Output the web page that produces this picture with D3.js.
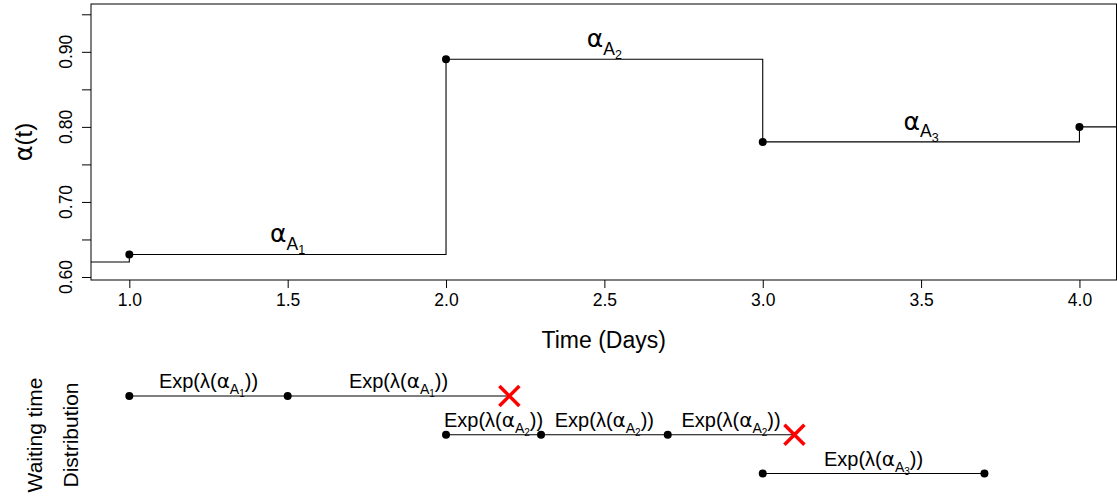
<!DOCTYPE html>
<html>
<head>
<meta charset="utf-8">
<script src="https://cdn.jsdelivr.net/npm/d3@7"></script>
<style>
  body { margin: 0; background: #fff; }
  svg { display: block; font-family: "Liberation Sans", Arial, sans-serif; }
  .tick text { fill: #000; }
  .greek { font-family: "DejaVu Sans", sans-serif; }
</style>
</head>
<body>
<svg id="chart" width="1117" height="498"></svg>
<script>
// alpha(t) step function: value before first change, then value at each change time
const alphaStart = 0.62
const changeTimes = [1, 2, 3, 4]
const alphaValues = [0.63, 0.89, 0.78, 0.80]

// state labels sit over the middle of each interval
const stateNames = ["1", "2", "3"]
const stateMids = [1.5, 2.5, 3.5]

// waiting time rows: event times per row, which state, and whether it ends censored (x)
const rowTimes = [
  [1.0, 1.5, 2.2],
  [2.0, 2.3, 2.7, 3.1],
  [3.0, 3.7]
]
const rowState = ["1", "2", "3"]
const rowCrossed = [true, true, false]

const xTicks = [1.0, 1.5, 2.0, 2.5, 3.0, 3.5, 4.0]
const yTicks = [0.60, 0.65, 0.70, 0.75, 0.80, 0.85, 0.90, 0.95]
const yLabelled = [0.60, 0.70, 0.80, 0.90]

const svg = d3.select("#chart")
const box = { left: 91, right: 1116.5, top: 4, bottom: 280 }

const x = d3.scaleLinear()
  .domain([0.879, 4.117])
  .range([box.left, box.right])

const y = d3.scaleLinear()
  .domain([0.596, 0.9637])
  .range([box.bottom, box.top])

const rowY = d3.scalePoint()
  .domain([0, 1, 2])
  .range([396, 473.5])

// clip for the step line
svg.append("clipPath").attr("id", "plotclip")
  .append("rect")
  .attr("x", box.left).attr("y", box.top)
  .attr("width", box.right - box.left).attr("height", box.bottom - box.top)

// axes
const xAxis = svg.append("g")
  .attr("transform", "translate(0," + box.bottom + ")")
  .call(d3.axisBottom(x).tickValues(xTicks).tickFormat(d3.format(".1f")).tickSize(8).tickPadding(6))
xAxis.select(".domain").remove()
xAxis.selectAll("text").style("font-size", "17.5px")

const yAxis = svg.append("g")
  .attr("transform", "translate(" + box.left + ",0)")
  .call(d3.axisLeft(y).tickValues(yTicks).tickSize(9).tickFormat(""))
yAxis.select(".domain").remove()

svg.append("g").selectAll("text")
  .data(yLabelled)
  .join("text")
  .attr("transform", d => "translate(71.5," + y(d) + ") rotate(-90)")
  .attr("text-anchor", "middle")
  .style("font-size", "17.5px")
  .text(d => d3.format(".2f")(d))

svg.append("rect")
  .attr("x", box.left).attr("y", box.top)
  .attr("width", box.right - box.left).attr("height", box.bottom - box.top)
  .attr("fill", "none").attr("stroke", "#000").attr("stroke-width", 1)

// axis titles
svg.append("text")
  .attr("x", (box.left + box.right) / 2).attr("y", 348)
  .attr("text-anchor", "middle")
  .style("font-size", "23px")
  .text("Time (Days)")

const yTitle = svg.append("text")
  .attr("transform", "translate(32," + (box.top + box.bottom) / 2 + ") rotate(-90)")
  .attr("text-anchor", "middle")
  .style("font-size", "24px")
yTitle.append("tspan").attr("class", "greek").text("α")
yTitle.append("tspan").text("(t)")

// step line
const stepPts = [[x.domain()[0], alphaStart]]
  .concat(changeTimes.map((t, i) => [t, alphaValues[i]]))
  .concat([[x.domain()[1], alphaValues[alphaValues.length - 1]]])

const line = d3.line()
  .x(d => x(d[0]))
  .y(d => y(d[1]))
  .curve(d3.curveStepAfter)

svg.append("path")
  .datum(stepPts)
  .attr("clip-path", "url(#plotclip)")
  .attr("d", line)
  .attr("fill", "none")
  .attr("stroke", "#000")
  .attr("stroke-width", 1.1)

svg.append("g").selectAll("circle")
  .data(changeTimes.map((t, i) => [t, alphaValues[i]]))
  .join("circle")
  .attr("cx", d => x(d[0]))
  .attr("cy", d => y(d[1]))
  .attr("r", 4)
  .attr("fill", "#000")

// alpha_{A_i} label: alpha, subscript A, sub-subscript digit
function alphaSub(t, size, state) {
  t.append("tspan").attr("class", "greek").text("α")
  t.append("tspan").attr("dy", size * 0.3).style("font-size", size * 0.7 + "px").text("A")
  t.append("tspan").attr("dy", size * 0.17).style("font-size", size * 0.5 + "px").text(state)
  return size * 0.47
}

svg.append("g").selectAll("text")
  .data(stateNames)
  .join("text")
  .attr("x", (d, i) => x(stateMids[i]))
  .attr("y", (d, i) => y(alphaValues[i]) - 12)
  .attr("text-anchor", "middle")
  .style("font-size", "25px")
  .each(function(d) { alphaSub(d3.select(this), 25, d) })

// waiting time panel
function expLabel(g, cx, cy, state) {
  const t = g.append("text")
    .attr("x", cx).attr("y", cy)
    .attr("text-anchor", "middle")
    .style("font-size", "20px")
  t.append("tspan").text("Exp(λ(")
  const back = alphaSub(t, 20, state)
  t.append("tspan").attr("dy", -back).style("font-size", "20px").text("))")
}

const wait = svg.append("g")
rowTimes.forEach((times, r) => {
  const yy = rowY(r)
  wait.append("line")
    .attr("x1", x(times[0])).attr("x2", x(times[times.length - 1]))
    .attr("y1", yy).attr("y2", yy)
    .attr("stroke", "#000").attr("stroke-width", 1.1)

  const dots = rowCrossed[r] ? times.slice(0, -1) : times
  wait.selectAll(null)
    .data(dots)
    .join("circle")
    .attr("cx", d => x(d)).attr("cy", yy)
    .attr("r", 4).attr("fill", "#000")

  d3.pairs(times).forEach(([a, b]) => {
    expLabel(wait, x((a + b) / 2), yy - 8, rowState[r])
  })

  if (rowCrossed[r]) {
    const cx = x(times[times.length - 1])
    const s = 10
    wait.append("path")
      .attr("d", "M" + (cx - s) + "," + (yy - s) + "L" + (cx + s) + "," + (yy + s) +
        "M" + (cx - s) + "," + (yy + s) + "L" + (cx + s) + "," + (yy - s))
      .attr("stroke", "#ff0000").attr("stroke-width", 3.5)
  }
})

svg.append("text")
  .attr("transform", "translate(42,435) rotate(-90)")
  .attr("text-anchor", "middle")
  .style("font-size", "21px")
  .text("Waiting time")

svg.append("text")
  .attr("transform", "translate(78,435) rotate(-90)")
  .attr("text-anchor", "middle")
  .style("font-size", "21px")
  .text("Distribution")
</script>
</body>
</html>
